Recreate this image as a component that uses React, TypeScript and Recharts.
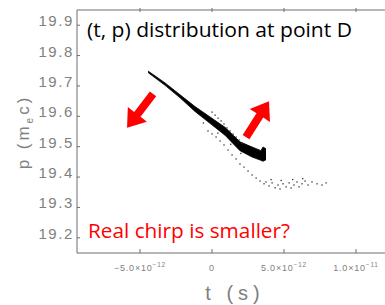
import { Area, ComposedChart, ReferenceDot, Scatter, XAxis, YAxis } from "recharts";

// time in units of 1e-12 s, momentum in m_e c
const X_TICKS = [-5, 0, 5, 10];
const X_TICK_MANT = ["\u22125.0\u00d710", "0", "5.0\u00d710", "1.0\u00d710"];
const X_TICK_EXP = ["\u221212", "", "\u221212", "\u221211"];
const Y_TICKS = [19.2, 19.3, 19.4, 19.5, 19.6, 19.7, 19.8, 19.9];

// dense core of the distribution (upper / lower edge)
const BAND_T = [-4.44, -3.26, -2.22, -1.18, -0.14, 0.9, 1.94, 2.78, 3.4, 3.54, 3.75];
const BAND_HI = [19.749, 19.71, 19.671, 19.632, 19.598, 19.564, 19.516, 19.499, 19.487, 19.499, 19.493];
const BAND_LO = [19.744, 19.702, 19.661, 19.616, 19.577, 19.538, 19.487, 19.466, 19.455, 19.452, 19.457];

// sparse particles
const DOT_T = [
  0.0, 0.21, 0.42, 0.63, 0.83, 1.04, 1.25, 1.46, 1.67, 1.88, 2.08,
  -0.28, 0.0, 0.28, 0.56, 0.83, 1.11, 1.39, 1.67, 1.94, 2.22, 2.5, 2.78, 3.06, 3.33, 3.61,
  3.75, 3.96, 4.17, 4.38, 4.58, 4.72, 4.93, 5.14, 5.35, 5.49, 5.69, 5.9, 6.04, 6.25, 6.46, 6.67, 6.94, 7.29, 7.64, 7.92,
  4.1, 4.8, 5.6, 6.3, -0.6, 0.4, 1.3, 2.0,
];
const DOT_P = [
  19.614, 19.604, 19.594, 19.585, 19.575, 19.562, 19.552, 19.542, 19.532, 19.522, 19.512,
  19.552, 19.542, 19.532, 19.519, 19.506, 19.489, 19.473, 19.46, 19.443, 19.433, 19.42, 19.407, 19.397, 19.387, 19.378,
  19.384, 19.371, 19.381, 19.365, 19.374, 19.361, 19.378, 19.368, 19.381, 19.364, 19.374, 19.384, 19.368, 19.378, 19.387, 19.374, 19.384, 19.378, 19.374, 19.381,
  19.392, 19.389, 19.392, 19.395, 19.578, 19.545, 19.508, 19.478,
];

// arrow tips (data coords)
const ARROW_T = [-5.9, 3.96];
const ARROW_P = [19.562, 19.65];

const bandRows = BAND_T.map((t, i) => ({ t, range: [BAND_LO[i], BAND_HI[i]] }));
const dotRows = DOT_T.map((t, i) => ({ t, p: DOT_P[i] }));

const GRAY = "#808080";
const FRAME = "#6e6e6e";

function BottomTick(props: any) {
  const { x, y, index } = props;
  const exp = X_TICK_EXP[index];
  return (
    <g>
      <line x1={x} y1={y} x2={x} y2={y - 4} stroke={FRAME} />
      <text x={x} y={y + 18} textAnchor="middle" fill={GRAY} fontSize={9} letterSpacing={0.8} fontFamily="Liberation Sans, sans-serif">
        {X_TICK_MANT[index]}
        {exp && (
          <tspan dy={-4} fontSize={6.5}>
            {exp}
          </tspan>
        )}
      </text>
    </g>
  );
}

function TopTick(props: any) {
  const { x, y } = props;
  return <line x1={x} y1={y} x2={x} y2={y + 4} stroke={FRAME} />;
}

function LeftTick(props: any) {
  const { x, y, payload } = props;
  return (
    <g>
      <line x1={x} y1={y} x2={x + 3} y2={y} stroke={FRAME} />
      <text x={x - 3} y={y + 1} textAnchor="end" fill={GRAY} fontSize={15} letterSpacing={1.6} fontFamily="Liberation Sans, sans-serif">
        {Number(payload.value).toFixed(1)}
      </text>
    </g>
  );
}

function Speck(props: any) {
  const { cx, cy } = props;
  return <rect x={cx - 0.6} y={cy - 0.6} width={1.3} height={1.3} fill="#333" />;
}

function makeArrow(dx: number, dy: number) {
  // dx, dy: pixel vector from tail to tip
  return (props: any) => {
    const { cx, cy } = props;
    const L = Math.hypot(dx, dy);
    const ux = dx / L;
    const uy = dy / L;
    const nx = -uy;
    const ny = ux;
    const head = 17;
    const hw = 12;
    const sw = 4;
    const pt = (a: number, b: number) => `${cx - ux * a + nx * b},${cy - uy * a + ny * b}`;
    const pts = [pt(0, 0), pt(head, hw), pt(head, sw), pt(L, sw), pt(L, -sw), pt(head, -sw), pt(head, -hw)].join(" ");
    return <polygon points={pts} fill="#ff0000" />;
  };
}

function XTitle(props: any) {
  const { viewBox } = props;
  return (
    <text x={viewBox.x + 158} y={viewBox.y + 47} textAnchor="middle" fill={GRAY} fontSize={20} letterSpacing={5} fontFamily="Liberation Sans, sans-serif">
      t (s)
    </text>
  );
}

function YTitle() {
  return (
    <text transform="translate(29,132) rotate(-90)" textAnchor="middle" fill={GRAY} fontSize={17} letterSpacing={3} fontFamily="Liberation Sans, sans-serif">
      p (m<tspan fontSize={10} dy={4}>e</tspan><tspan dy={-4}>c)</tspan>
    </text>
  );
}

export default function App() {
  return (
    <div style={{ position: "absolute", left: 0, top: 0, width: 385, height: 305, overflow: "hidden", background: "#fff" }}>
      <ComposedChart width={410} height={305} margin={{ top: 0, right: 9, bottom: 0, left: 0 }}>
        <XAxis
          xAxisId="top"
          orientation="top"
          type="number"
          dataKey="t"
          domain={[-9.375, 13.125]}
          allowDataOverflow
          ticks={X_TICKS}
          height={10}
          tickSize={0}
          tickLine={false}
          tick={TopTick}
          axisLine={{ stroke: FRAME }}
        />
        <XAxis
          xAxisId="b"
          type="number"
          dataKey="t"
          domain={[-9.375, 13.125]}
          allowDataOverflow
          ticks={X_TICKS}
          height={52}
          tickSize={0}
          tickMargin={0}
          tickLine={false}
          tick={BottomTick}
          axisLine={{ stroke: FRAME }}
          label={<XTitle />}
        />
        <YAxis
          yAxisId="p"
          type="number"
          domain={[19.15, 19.95]}
          allowDataOverflow
          ticks={Y_TICKS}
          width={77}
          tickSize={0}
          tickMargin={0}
          tickLine={false}
          tick={LeftTick}
          axisLine={{ stroke: FRAME }}
          label={<YTitle />}
        />
        <Area
          xAxisId="b"
          yAxisId="p"
          data={bandRows}
          dataKey="range"
          type="linear"
          stroke="#000"
          strokeWidth={0.8}
          fill="#000"
          fillOpacity={1}
          dot={false}
          activeDot={false}
          isAnimationActive={false}
        />
        <Scatter xAxisId="b" yAxisId="p" data={dotRows} dataKey="p" shape={Speck} isAnimationActive={false} />
        <ReferenceDot xAxisId="b" yAxisId="p" x={ARROW_T[0]} y={ARROW_P[0]} shape={makeArrow(-26, 34)} />
        <ReferenceDot xAxisId="b" yAxisId="p" x={ARROW_T[1]} y={ARROW_P[1]} shape={makeArrow(23, -36)} />
      </ComposedChart>
      <svg width={385} height={305} style={{ position: "absolute", left: 0, top: 0, pointerEvents: "none" }}>
        <text x={87} y={37} fill="#000" fontSize={20} textLength={265} lengthAdjust="spacingAndGlyphs" fontFamily="Open Sans, sans-serif">
          (t, p) distribution at point D
        </text>
        <text x={88} y={238} fill="#ff0000" fontSize={20} textLength={202} lengthAdjust="spacingAndGlyphs" fontFamily="Open Sans, sans-serif">
          Real chirp is smaller?
        </text>
      </svg>
    </div>
  );
}
